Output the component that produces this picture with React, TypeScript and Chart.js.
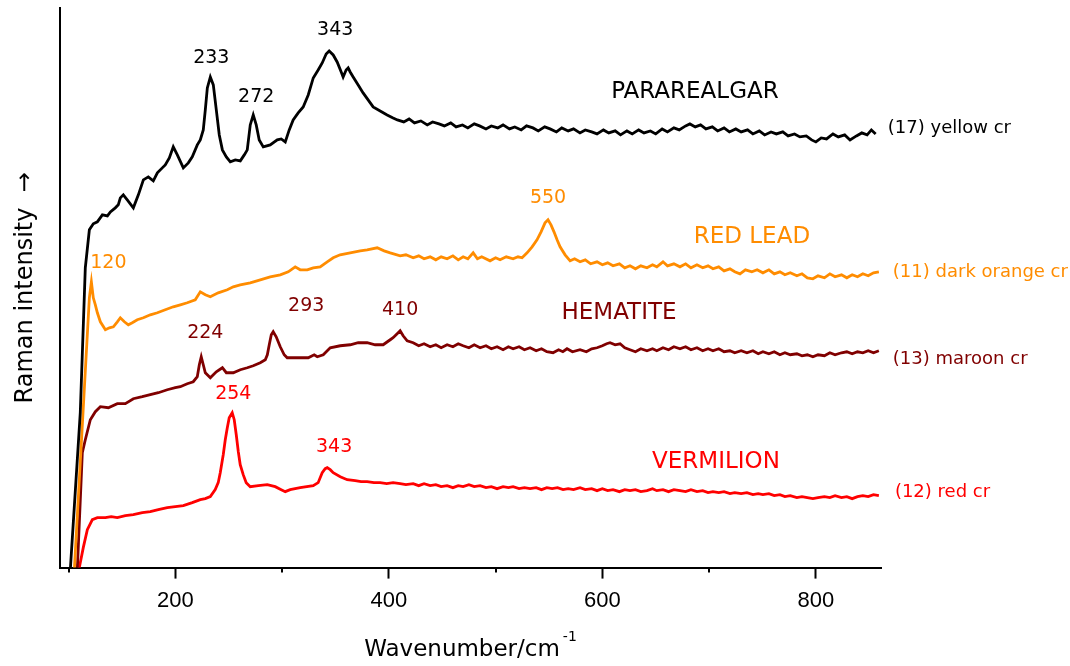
import React, { useEffect, useRef } from "react";
import { Chart, registerables } from "chart.js";

Chart.register(...registerables);

// ---------- data (wavenumber / relative intensity) ----------
const yellowX = [100, 111, 115.7, 119.5, 123.2, 127, 131.7, 136.4, 139.2, 143.8, 146.6, 148.5, 151.3, 155, 160.7, 165.4, 170.1, 174.7, 179.4, 183.2, 187.8, 190.6, 194.4, 198.1, 201.9, 207.5, 212.2, 215.9, 220.6, 223.4, 226.2, 228.1, 230, 232.8, 235.6, 238.4, 241.2, 244.1, 247.8, 251.5, 256.2, 260.9, 264.6, 267.4, 270.2, 273, 275.8, 278.6, 282.4, 288.9, 295.5, 299.2, 303, 306.7, 310.4, 315.1, 319.8, 324.5, 329.2, 333.8, 337.6, 341.3, 344.1, 347.9, 351.6, 355.4, 357.2, 360, 361.9, 363.8, 366.6, 371.3, 375.9, 380.6, 385.3, 391.9, 398.4, 404,
  408, 414, 419, 424, 430, 436, 441, 447, 452, 458, 463, 469, 474, 480, 485, 491, 496, 502, 507, 513, 518, 524, 529, 535, 540, 546, 551, 557, 562, 568, 573, 579, 584, 590, 595, 601, 606, 612, 617, 623, 628, 634, 639, 645, 650, 656, 661, 667, 672, 678, 682, 687, 692, 697, 703, 708, 714, 719, 725, 730, 736, 741, 747, 752, 758, 763, 769, 774, 780, 785, 791, 796, 800, 805, 810, 816, 821, 827, 832, 838, 843, 848, 852, 856];
const yellowY = [-30, 155, 300, 338, 344, 346, 353, 352, 356, 360, 363, 370, 373, 368, 360, 373, 388, 391, 387, 395, 400, 403, 410, 421, 413, 400, 405, 411, 423, 428, 438, 458, 480, 491, 483, 458, 433, 418, 411, 406, 408, 407, 413, 418, 443, 453, 443, 428, 421, 423, 428, 429, 426, 438, 448, 455, 461, 473, 490, 498, 505, 514, 517, 513, 506, 496, 491, 498, 500, 496, 491, 483, 475, 468, 461, 457, 453, 450,
  448, 446, 449, 445, 447, 443, 446, 444, 442, 445, 441, 443, 440, 444, 442, 439, 442, 440, 443, 439, 441, 438, 442, 440, 437, 441, 439, 436, 440, 437, 439, 435, 438, 436, 434, 438, 435, 437, 433, 437, 434, 438, 435, 437, 434, 439, 436, 440, 438, 442, 444, 441, 443, 439, 441, 437, 440, 436, 439, 436, 438, 434, 437, 433, 436, 434, 436, 432, 434, 431, 432, 428, 426, 430, 429, 434, 431, 433, 428, 432, 435, 433, 438, 434];

const orangeX = [104, 119.5, 121.4, 123.2, 125.1, 127, 129.8, 134.5, 138.3, 142, 145.7, 148.5, 152.3, 156, 159.7, 164.4, 170.1, 176.6, 183.2, 190.6, 198.1, 204.7, 211.2, 218.7, 223.4, 228.1, 232.8, 240.2, 248.7, 254.3, 260.8, 270.2, 279.6, 288.9, 298.3, 305.8, 312.3, 317, 323.6, 329.2, 335.7, 342.3, 347.9, 354.4, 363.8, 373.2, 379.7, 389.1, 395.6, 401.3, 410.6,
  416, 422.8, 428, 433, 438.7, 444, 449, 454.6, 460, 465, 469.6, 474, 479, 483, 487, 494.8, 500, 504.2, 510, 516.4, 521, 524.8, 529.5, 534.2, 538.8, 542.6, 546.3, 549.1, 551.9, 554.7, 557.6, 560.4, 565.1, 569.8, 574, 579.1, 584, 589, 595, 600, 605, 610, 616, 621, 625.9, 631, 636, 641.8, 647, 651, 656.8, 661, 667, 672.7, 678, 683, 688.6, 694, 699, 703.6, 709, 714, 719.5, 724, 728.9, 734, 740, 745, 750.4, 756, 761, 766.3, 771, 776, 782.2, 787, 792, 797.2, 802, 808, 813.1, 818, 824, 829, 834, 839, 844, 849, 854, 859];
const orangeY = [-30, 270, 286, 270, 263, 255, 246, 238, 240, 241, 246, 250, 246, 243, 245, 248, 250, 253, 255, 258, 261, 263, 265, 268, 276, 273, 271, 275, 278, 281, 283, 285, 288, 291, 293, 296, 301, 298, 298, 300, 301, 306, 310, 313, 315, 317, 318, 320, 317, 315, 312,
  313, 310, 312, 309, 311, 308, 311, 309, 312, 308, 311, 309, 315, 309, 311, 307, 310, 308, 311, 309, 311, 310, 315, 321, 328, 336, 345, 348, 343, 336, 328, 321, 313, 307, 309, 306, 308, 304, 306, 303, 305, 302, 304, 300, 302, 299, 302, 300, 303, 301, 306, 302, 304, 301, 304, 300, 303, 300, 302, 299, 301, 297, 299, 296, 294, 298, 296, 298, 295, 298, 294, 296, 293, 295, 292, 294, 290, 289, 292, 290, 294, 291, 293, 290, 293, 291, 294, 292, 295, 296];

const maroonX = [106, 108.3, 112.9, 115.7, 120.4, 125.1, 129.8, 137.3, 145.7, 153.2, 160.7, 169.1, 176.6, 184.1, 192.5, 200, 204.7, 211.2, 216.8, 220.6, 222.5, 224.3, 226.2, 228.1, 232.8, 238.4, 244.1, 247.8, 254.3, 260.9, 267.4, 273, 279.6, 284.3, 286.2, 288, 289.9, 291.7, 294.5, 298.3, 302, 304.8, 310.4, 317, 324.5, 330.1, 333, 338.6, 345.1, 354.5, 363.8, 371.3, 379.7, 387.2, 394.7, 401.3, 404, 407.8, 410.6, 413.4, 417.2, 422.8,
  428, 433, 438.7, 444, 449, 454.6, 460, 465, 469.6, 475, 480, 485.5, 491, 496, 501.4, 507, 512, 516.4, 522, 527, 532.3, 538, 543, 548, 553.8, 559, 563, 566.9, 572, 579.1, 585, 590, 595, 600, 604, 607.2, 612, 616.6, 621, 625.9, 631, 636, 641.8, 647, 651, 656.8, 662, 667, 672.7, 678, 683, 688.6, 694, 699, 703.6, 709, 714, 719.5, 724, 730, 735.4, 741, 746, 750.4, 756, 761, 766.3, 771, 776, 782.2, 787, 792, 797.2, 802, 808, 813.1, 818, 824, 829, 834, 839, 844, 849, 854, 859];
const maroonY = [-30, 0, 115, 128, 148, 156, 161, 160, 164, 164, 169, 171, 173, 175, 178, 180, 181, 184, 186, 191, 203, 211, 203, 195, 190, 196, 200, 195, 195, 198, 200, 202, 205, 208, 213, 223, 233, 236, 231, 221, 213, 210, 210, 210, 210, 213, 211, 213, 220, 222, 223, 225, 225, 223, 223, 228, 230, 234, 237, 232, 227, 225,
  222, 224, 221, 223, 220, 223, 221, 224, 222, 220, 223, 220, 222, 219, 221, 218, 221, 219, 221, 218, 220, 217, 219, 216, 215, 218, 216, 219, 216, 218, 216, 219, 220, 222, 224, 225, 223, 224, 220, 218, 216, 219, 217, 219, 217, 220, 218, 221, 219, 221, 218, 220, 217, 219, 217, 219, 216, 217, 215, 217, 215, 217, 214, 216, 214, 216, 213, 215, 213, 214, 212, 213, 211, 213, 212, 215, 213, 215, 216, 214, 216, 215, 217, 215, 217];

const redX = [107, 110.1, 113.8, 117.6, 122.3, 127, 134.5, 140, 145.7, 153.2, 160.7, 169.1, 176.6, 184.1, 192.5, 200, 207.5, 215.9, 223.4, 228.1, 232.8, 237.4, 240.2, 242.1, 244.9, 246.8, 248.7, 250.5, 253.3, 255.2, 257.1, 259, 260.8, 263.6, 266.4, 270.2, 277.7, 286.1, 293.6, 299.2, 303, 307.6, 317, 329.2, 333.8, 337.6, 340.4, 342.3, 345.1, 347.9, 354.5, 361, 368.5, 374, 379.7, 386, 391.9, 398, 404, 410.6,
  416, 422.8, 428, 433, 438.7, 444, 449, 454.6, 460, 465, 469.6, 475, 480, 485.5, 491, 496, 501.4, 507, 512, 516.4, 522, 527, 532.3, 538, 543, 548, 553, 558, 563.2, 568, 573, 579.1, 584, 590, 595, 600, 605, 610, 616, 621, 625.9, 631, 636, 641.8, 647, 651, 656.8, 662, 667, 672.7, 678, 683, 688.6, 694, 699, 703.6, 709, 714, 719.5, 724, 730, 735.4, 741, 746, 750.4, 756, 761, 766.3, 771, 776, 782.2, 787, 792, 797.2, 802, 808, 813.1, 818, 824, 829, 834, 839, 844, 849, 854, 859];
const redY = [-30, 0, 20, 38, 48, 50, 50, 51, 50, 52, 53, 55, 56, 58, 60, 61, 62, 65, 68, 69, 71, 78, 85, 95, 113, 128, 140, 150, 155, 148, 133, 116, 103, 93, 85, 81, 82, 83, 81, 78, 76, 78, 80, 82, 85, 95, 99, 100, 98, 95, 91, 88, 87, 86, 86, 85, 85, 84, 85, 84,
  83, 84, 82, 84, 82, 83, 81, 82, 80, 82, 81, 83, 81, 82, 80, 81, 79, 81, 80, 81, 79, 80, 79, 80, 78, 80, 79, 80, 78, 79, 78, 80, 78, 79, 77, 79, 77, 78, 76, 78, 77, 78, 76, 77, 79, 77, 78, 76, 78, 77, 76, 78, 76, 77, 75, 76, 75, 76, 74, 75, 74, 75, 73, 74, 73, 74, 72, 73, 71, 72, 70, 71, 70, 69, 70, 71, 70, 72, 70, 71, 69, 71, 72, 71, 73, 72];

const seriesNames = ["(17) yellow cr", "(11) dark orange cr", "(13) maroon cr", "(12) red cr"];
const seriesColors = ["#000000", "#FF8C00", "#800000", "#FF0000"];
const seriesX = [yellowX, orangeX, maroonX, redX];
const seriesY = [yellowY, orangeY, maroonY, redY];
// position (in data units) of the end-of-line series label
const seriesLabelAt = [[867.4, 440], [872.1, 295], [872.1, 208], [874, 75]];

const pigmentNames = ["PARAREALGAR", "RED LEAD", "HEMATITE", "VERMILION"];
const pigmentAt = [[686.7, 476], [740.1, 331], [615.6, 255], [706.4, 106]];

// peak labels: text, wavenumber position, intensity position, series index
const peakText = ["233", "272", "343", "120", "550", "224", "293", "410", "254", "343"];
const peakX = [233.7, 275.8, 349.8, 137.3, 549.1, 228.1, 322.6, 410.6, 254.3, 348.8];
const peakY = [510, 471, 538, 305, 370, 235, 262, 258, 174, 121];
const peakSeries = [0, 0, 0, 1, 1, 2, 2, 2, 3, 3];

const xMajorTicks = [200, 400, 600, 800];
const xMinorTicks = [100, 300, 500, 700];
const xMin = 92;
const xMax = 861;
const yMin = 0;
const yMax = 560;

const FONT = '"Comic Sans MS", "DejaVu Sans", sans-serif';

const textPlugin = {
  id: "ramanText",
  afterDraw(chart: any) {
    const ctx = chart.ctx;
    const xs = chart.scales.x;
    const ys = chart.scales.y;
    const area = chart.chartArea;
    ctx.save();
    // minor ticks
    ctx.strokeStyle = "#000";
    ctx.lineWidth = 2;
    xMinorTicks.forEach((v) => {
      const px = Math.round(xs.getPixelForValue(v));
      ctx.beginPath();
      ctx.moveTo(px, area.bottom);
      ctx.lineTo(px, area.bottom + 5);
      ctx.stroke();
    });
    ctx.textBaseline = "middle";
    // peak labels
    ctx.textAlign = "center";
    ctx.font = `19px ${FONT}`;
    peakText.forEach((t, i) => {
      ctx.fillStyle = seriesColors[peakSeries[i]];
      ctx.fillText(t, xs.getPixelForValue(peakX[i]), ys.getPixelForValue(peakY[i]));
    });
    // pigment names
    ctx.font = `23px ${FONT}`;
    pigmentNames.forEach((t, i) => {
      ctx.fillStyle = seriesColors[i];
      ctx.fillText(t, xs.getPixelForValue(pigmentAt[i][0]), ys.getPixelForValue(pigmentAt[i][1]));
    });
    // series labels
    ctx.textAlign = "left";
    ctx.font = `18px ${FONT}`;
    seriesNames.forEach((t, i) => {
      ctx.fillStyle = seriesColors[i];
      ctx.fillText(t, xs.getPixelForValue(seriesLabelAt[i][0]), ys.getPixelForValue(seriesLabelAt[i][1]));
    });
    // x title with superscript
    ctx.fillStyle = "#000";
    ctx.textBaseline = "alphabetic";
    const main = "Wavenumber/cm";
    ctx.font = `23px ${FONT}`;
    const wMain = ctx.measureText(main).width;
    ctx.font = `14px ${FONT}`;
    const wSup = ctx.measureText("-1").width;
    const cx = (area.left + area.right) / 2;
    const startX = cx - (wMain + wSup + 3) / 2;
    ctx.font = `23px ${FONT}`;
    ctx.fillText(main, startX, 656);
    ctx.font = `14px ${FONT}`;
    ctx.fillText("-1", startX + wMain + 3, 641);
    // y title
    ctx.font = `24px ${FONT}`;
    ctx.translate(26, (area.top + area.bottom) / 2);
    ctx.rotate(-Math.PI / 2);
    ctx.textAlign = "center";
    ctx.textBaseline = "middle";
    ctx.fillText("Raman intensity  \u2192", 0, 0);
    ctx.restore();
  },
};

export default function App() {
  const canvasRef = useRef<HTMLCanvasElement | null>(null);

  useEffect(() => {
    if (!canvasRef.current) return;
    const datasets = seriesNames.map((name, i) => ({
      label: name,
      data: seriesX[i].map((x, j) => ({ x, y: seriesY[i][j] })),
      borderColor: seriesColors[i],
      backgroundColor: seriesColors[i],
      borderWidth: 2.8,
      pointRadius: 0,
      tension: 0,
      fill: false,
    }));
    const chart = new Chart(canvasRef.current, {
      type: "line",
      data: { datasets },
      plugins: [textPlugin],
      options: {
        animation: false,
        responsive: true,
        maintainAspectRatio: false,
        layout: { padding: { left: 60, top: 8, right: 189, bottom: 43 } },
        plugins: { legend: { display: false }, tooltip: { enabled: false } },
        scales: {
          x: {
            type: "linear",
            min: xMin,
            max: xMax,
            afterBuildTicks: (scale: any) => {
              scale.ticks = xMajorTicks.map((v) => ({ value: v }));
            },
            ticks: {
              color: "#000",
              padding: 9,
              maxRotation: 0,
              autoSkip: false,
              font: { family: '"Liberation Sans", Arial, sans-serif', size: 22 },
              callback: (v: any) => String(v),
            },
            grid: {
              display: true,
              drawOnChartArea: false,
              drawTicks: true,
              tickLength: 11,
              tickWidth: 2,
              tickColor: "#000",
            },
            border: { display: true, color: "#000", width: 2 },
          },
          y: {
            type: "linear",
            min: yMin,
            max: yMax,
            ticks: { display: false },
            grid: { display: false, drawTicks: false },
            border: { display: true, color: "#000", width: 2 },
          },
        },
      },
    });
    return () => chart.destroy();
  }, []);

  return (
    <div style={{ position: "absolute", left: 0, top: 0, width: 1070, height: 666, background: "#fff" }}>
      <canvas ref={canvasRef} />
    </div>
  );
}
